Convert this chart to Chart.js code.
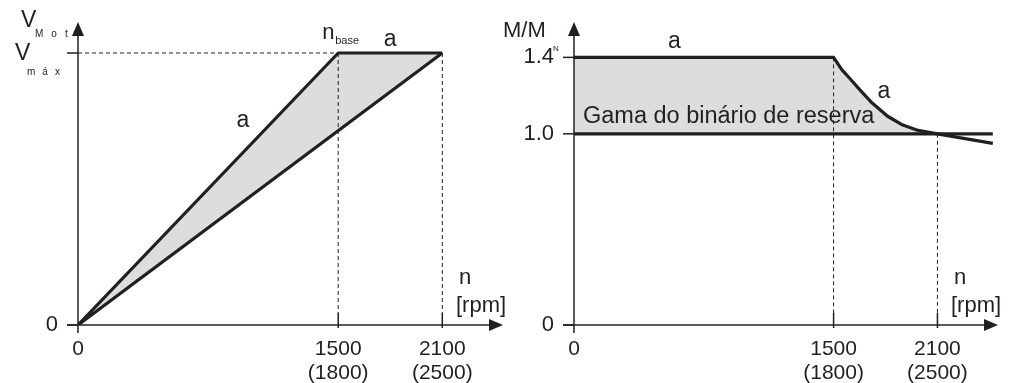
<!DOCTYPE html>
<html>
<head>
<meta charset="utf-8">
<script src="https://cdn.jsdelivr.net/npm/chart.js@4"></script>
<style>
  html, body { margin: 0; padding: 0; background: #fff; }
  #wrap { position: relative; width: 1015px; height: 383px; }
  #wrap canvas { position: absolute; left: 0; top: 0; }
</style>
</head>
<body>
<div id="wrap">
  <canvas id="graficoTensao" width="1015" height="383"></canvas>
  <canvas id="graficoBinario" width="1015" height="383"></canvas>
</div>
<script>
// Eixo n [rpm] (comum aos dois gráficos)
const rpmTicks = [0, 1500, 2100];
const rpmLabels = ['0', '1500', '2100'];
const rpmLabels60 = ['', '(1800)', '(2500)'];

// Gráfico esquerdo: tensão do motor, normalizada a V máx
const tensaoA_n = [0, 1500, 2100];
const tensaoA_v = [0, 1, 1];
const tensaoB_n = [0, 2100];
const tensaoB_v = [0, 1];
const tensaoTicks = [0, 1];

// Gráfico direito: binário M/MN
const binarioA_n = [0, 1500, 1546, 1599, 1652, 1723, 1812, 1900, 1989, 2100, 2420];
const binarioA_m = [1.4, 1.4, 1.337, 1.284, 1.23, 1.161, 1.092, 1.046, 1.018, 1.0, 0.95];
const binarioN_n = [0, 2420];
const binarioN_m = [1.0, 1.0];
const binarioTicks = [0, 1.0, 1.4];
const binarioLabels = ['0', '1.0', '1.4'];

const COR = '#231f20';
const CINZA = '#dcdddf';
const FONTE = '"Liberation Sans", Arial, sans-serif';

function pontos(xs, ys) {
    return xs.map((v, i) => ({ x: v, y: ys[i] }));
}

function txt(ctx, s, x, y, size, align) {
    ctx.font = size + 'px ' + FONTE;
    ctx.textAlign = align || 'left';
    ctx.textBaseline = 'middle';
    ctx.fillStyle = COR;
    ctx.fillText(s, x, y);
}

// texto com letras afastadas (índices tipo "M o t")
function txtEspacado(ctx, s, x, y, size, gap) {
    ctx.font = size + 'px ' + FONTE;
    ctx.textAlign = 'left';
    ctx.textBaseline = 'middle';
    ctx.fillStyle = COR;
    for (const c of s) {
        ctx.fillText(c, x, y);
        x += ctx.measureText(c).width + gap;
    }
}

function linha(ctx, x1, y1, x2, y2) {
    ctx.beginPath();
    ctx.moveTo(x1, y1);
    ctx.lineTo(x2, y2);
    ctx.stroke();
}

// Eixos com setas, marcas e rótulos do eixo n
function desenharEixos(chart) {
    const { ctx, chartArea: a, scales: { x, y } } = chart;
    const x0 = x.getPixelForValue(0), y0 = y.getPixelForValue(0);
    ctx.save();
    ctx.strokeStyle = COR;
    ctx.fillStyle = COR;
    ctx.lineWidth = 1.5;
    linha(ctx, x0, y0 + 8, x0, a.top + 10);
    linha(ctx, x0 - 11, y0, a.right - 10, y0);
    // setas
    ctx.beginPath();
    ctx.moveTo(x0, a.top); ctx.lineTo(x0 - 6, a.top + 14); ctx.lineTo(x0 + 6, a.top + 14);
    ctx.closePath(); ctx.fill();
    ctx.beginPath();
    ctx.moveTo(a.right, y0); ctx.lineTo(a.right - 14, y0 - 6); ctx.lineTo(a.right - 14, y0 + 6);
    ctx.closePath(); ctx.fill();
    // marcas e rótulos do eixo n
    rpmTicks.forEach((t, i) => {
        const px = x.getPixelForValue(t);
        if (t > 0) linha(ctx, px, y0 - 12, px, y0 + 3);
        txt(ctx, rpmLabels[i], px, y0 + 24, 21, 'center');
        if (rpmLabels60[i]) txt(ctx, rpmLabels60[i], px, y0 + 48, 21, 'center');
    });
    txt(ctx, 'n', a.right - 44, y0 - 47, 22);
    txt(ctx, '[rpm]', a.right - 47, y0 - 19, 22);
    ctx.restore();
}

function tracejado(ctx, x1, y1, x2, y2) {
    ctx.save();
    ctx.setLineDash([4, 3]);
    ctx.lineWidth = 1;
    ctx.strokeStyle = COR;
    linha(ctx, x1, y1, x2, y2);
    ctx.restore();
}

const pluginTensao = {
    id: 'pluginTensao',
    afterDatasetsDraw(chart) {
        const { ctx, scales: { x, y } } = chart;
        const x0 = x.getPixelForValue(0), y0 = y.getPixelForValue(0);
        const yMax = y.getPixelForValue(1);
        const n1 = x.getPixelForValue(1500), n2 = x.getPixelForValue(2100);
        tracejado(ctx, x0, yMax, n1, yMax);
        tracejado(ctx, n1, yMax, n1, y0 - 12);
        tracejado(ctx, n2, yMax, n2, y0 - 12);
        desenharEixos(chart);
        ctx.save();
        ctx.strokeStyle = COR;
        ctx.lineWidth = 1.5;
        tensaoTicks.forEach(t => linha(ctx, x0 - 11, y.getPixelForValue(t), x0, y.getPixelForValue(t)));
        ctx.restore();
        txt(ctx, '0', x0 - 20, y0, 22, 'right');
        txt(ctx, 'V', x0 - 63, yMax + 1, 23);
        txtEspacado(ctx, 'máx', x0 - 51, yMax + 19, 10, 7);
        txt(ctx, 'V', x0 - 57, yMax - 32, 23);
        txtEspacado(ctx, 'Mot', x0 - 43, yMax - 19, 10, 8);
        txt(ctx, 'n', n1 - 16, yMax - 20, 22);
        txt(ctx, 'base', n1 - 3, yMax - 12, 11);
        txt(ctx, 'a', (n1 + n2) / 2, yMax - 13, 23, 'center');
        txt(ctx, 'a', x.getPixelForValue(950), yMax + 68, 23, 'center');
    }
};

const pluginBinario = {
    id: 'pluginBinario',
    afterDatasetsDraw(chart) {
        const { ctx, scales: { x, y } } = chart;
        const x0 = x.getPixelForValue(0), y0 = y.getPixelForValue(0);
        const n1 = x.getPixelForValue(1500), n2 = x.getPixelForValue(2100);
        tracejado(ctx, n1, y.getPixelForValue(1.4), n1, y0 - 12);
        tracejado(ctx, n2, y.getPixelForValue(1.0), n2, y0 - 12);
        desenharEixos(chart);
        ctx.save();
        ctx.strokeStyle = COR;
        ctx.lineWidth = 1.5;
        binarioTicks.forEach((t, i) => {
            const py = y.getPixelForValue(t);
            linha(ctx, x0 - 11, py, x0, py);
            txt(ctx, binarioLabels[i], x0 - 20, py, 22, 'right');
        });
        ctx.restore();
        txt(ctx, 'M/M', x0 - 71, 31, 22);
        txt(ctx, 'N', x0 - 21, 49, 8);
        txt(ctx, 'a', x.getPixelForValue(580), y.getPixelForValue(1.4) - 16, 23, 'center');
        txt(ctx, 'a', x.getPixelForValue(1790), y.getPixelForValue(1.22), 23, 'center');
        txt(ctx, 'Gama do binário de reserva', x0 + 9, y.getPixelForValue(1.09), 23.5);
    }
};

function opcoes(padding, xMax, yMax) {
    return {
        responsive: false,
        animation: false,
        layout: { padding: padding },
        plugins: {
            legend: { display: false },
            tooltip: { enabled: false },
            filler: { drawTime: 'beforeDatasetsDraw' }
        },
        elements: {
            point: { radius: 0 },
            line: { borderWidth: 3.2, borderColor: COR, tension: 0, borderJoinStyle: 'round' }
        },
        scales: {
            x: { type: 'linear', display: false, min: 0, max: xMax },
            y: { type: 'linear', display: false, min: 0, max: yMax }
        }
    };
}

new Chart(document.getElementById('graficoTensao'), {
    type: 'line',
    data: {
        datasets: [
            { data: pontos(tensaoA_n, tensaoA_v), fill: { target: '+1', above: CINZA, below: CINZA } },
            { data: pontos(tensaoB_n, tensaoB_v), fill: false }
        ]
    },
    options: opcoes({ left: 78, right: 512, top: 22, bottom: 58 }, 2450, 1.114),
    plugins: [pluginTensao]
});

new Chart(document.getElementById('graficoBinario'), {
    type: 'line',
    data: {
        datasets: [
            { data: pontos(binarioA_n, binarioA_m),
              fill: { target: '+1', above: CINZA, below: 'rgba(0,0,0,0)' } },
            { data: pontos(binarioN_n, binarioN_m), fill: false }
        ]
    },
    options: opcoes({ left: 574, right: 17, top: 22, bottom: 58 }, 2450, 1.585),
    plugins: [pluginBinario]
});
</script>
</body>
</html>
